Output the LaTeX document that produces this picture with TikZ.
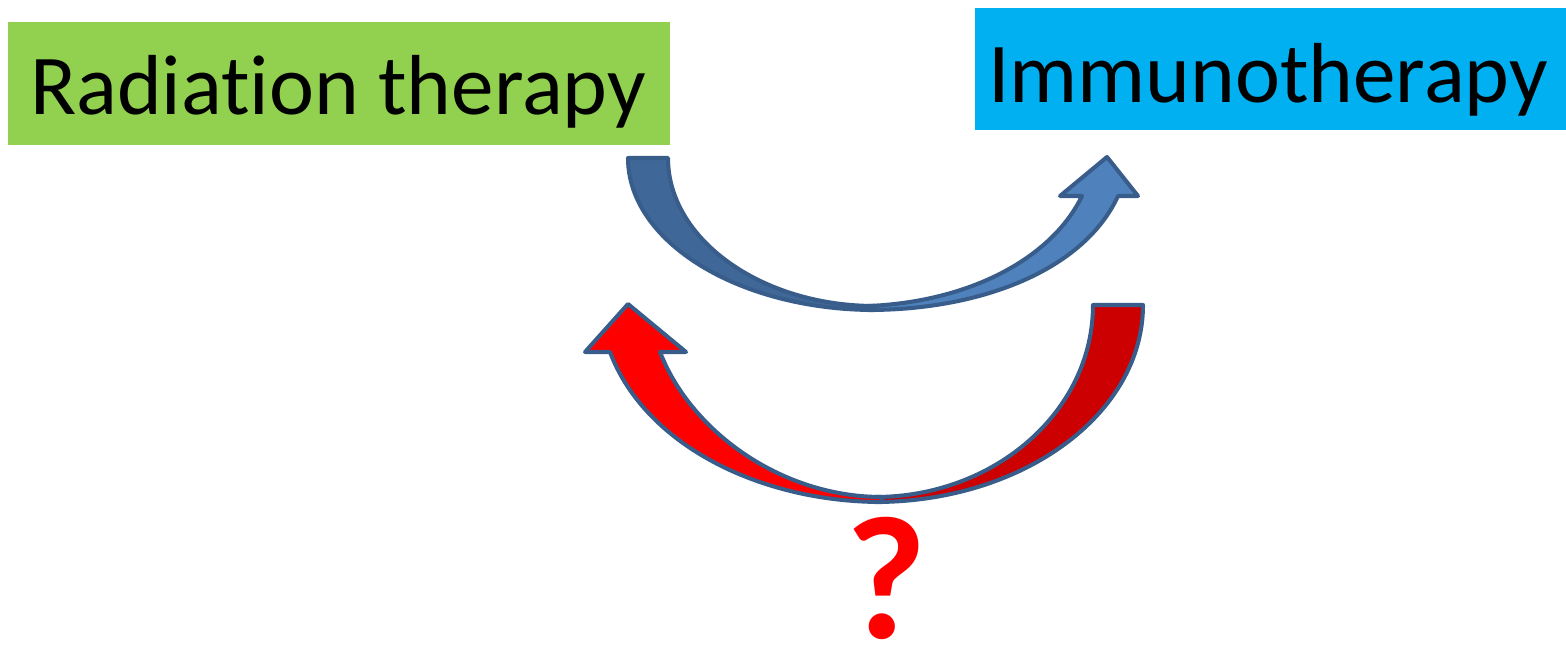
\documentclass[tikz,border=0pt]{standalone}
\usepackage{fontspec}
\setmainfont{Carlito}[Ligatures={NoCommon}]
\definecolor{rtgreen}{HTML}{92D050}
\definecolor{itblue}{HTML}{00B0F0}
\definecolor{bdark}{RGB}{63,103,152}
\definecolor{blight}{HTML}{4F81BD}
\definecolor{rdark}{HTML}{CC0000}
\definecolor{rlight}{HTML}{FF0000}
\definecolor{edge}{RGB}{56,93,138}
\tikzset{
  box/.style={inner sep=0pt, outer sep=0pt, font=\fontsize{48.5}{48.5}\selectfont, text=black},
  piece/.style={draw=edge, line width=2.3pt, line join=round}
}
\begin{document}
\begin{tikzpicture}[x=0.02cm,y=-0.02cm]
\useasboundingbox (0,0) rectangle (1566,645);
% boxes
\node[box, fill=rtgreen, minimum width=13.24cm, minimum height=2.46cm] (rt) at (339,83.5) {};
\node[box, anchor=base] (rtt) at (338,115) {Radiation therapy};
\node[box, fill=itblue, minimum width=11.82cm, minimum height=2.44cm] (it) at (1270.5,69) {};
\node[box, anchor=base] (itt) at (1268,103) {Immunotherapy};
% blue curved arrow
\path[piece, fill=bdark] (628,158) .. controls (628,242) and (739,310) .. (875,310)
  -- (875,306) .. controls (761,306) and (668,239) .. (668,158) -- cycle;
\path[piece, fill=blight] (868,310) .. controls (985,310) and (1085,268) .. (1118,196)
  -- (1138,196) -- (1107,157) -- (1060,196) -- (1082,196)
  .. controls (1052,258) and (970,302) .. (868,306) -- cycle;
% red curved arrow
\path[piece, fill=rdark] (1093,305) -- (1143,305) .. controls (1143,414) and (1023,502) .. (875,502)
  -- (875,497) .. controls (995,497) and (1093,411) .. (1093,305) -- cycle;
\path[piece, fill=rlight] (882,502) .. controls (760,502) and (645,445) .. (610,352)
  -- (585,352) -- (628,304) -- (686,352) -- (660,352)
  .. controls (690,430) and (780,497) .. (882,497) -- cycle;
% question mark
\node[inner sep=0pt, text=rlight, font=\fontsize{100}{100}\selectfont\bfseries, anchor=base] (q) at (886,638) {?};
\end{tikzpicture}
\end{document}
